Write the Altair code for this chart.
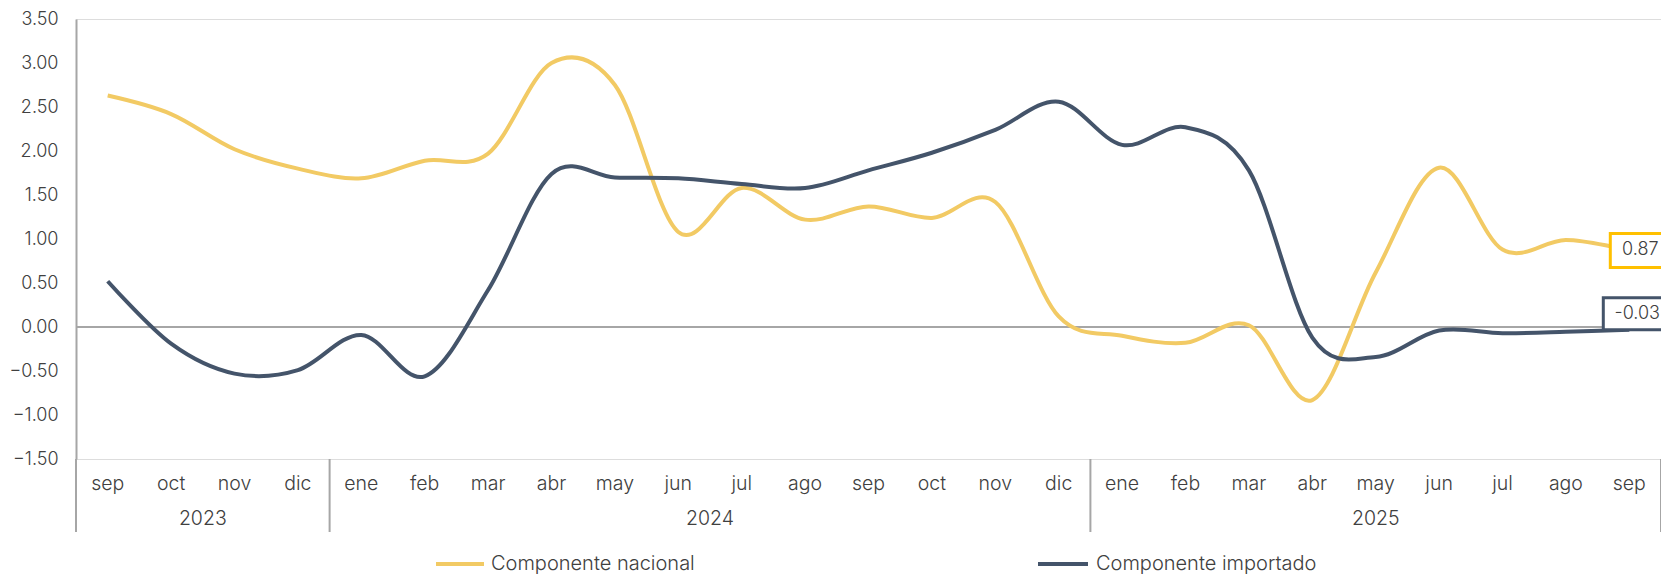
import altair as alt
import pandas as pd

# ---- data ----
months = ["sep", "oct", "nov", "dic",
          "ene", "feb", "mar", "abr", "may", "jun", "jul", "ago", "sep", "oct", "nov", "dic",
          "ene", "feb", "mar", "abr", "may", "jun", "jul", "ago", "sep"]
years = ["2023"] * 4 + ["2024"] * 12 + ["2025"] * 9
nacional = [2.63, 2.42, 2.02, 1.80,
            1.69, 1.89, 1.97, 3.00, 2.75, 1.08, 1.58, 1.22, 1.37, 1.24, 1.42, 0.12,
            -0.10, -0.18, 0.02, -0.83, 0.62, 1.81, 0.88, 0.99, 0.87]
importado = [0.52, -0.19, -0.53, -0.49,
             -0.09, -0.56, 0.42, 1.74, 1.70, 1.69, 1.625, 1.58, 1.78, 1.98, 2.24, 2.56,
             2.07, 2.27, 1.78, -0.12, -0.34, -0.04, -0.07, -0.055, -0.03]
series_names = ["Componente nacional", "Componente importado"]
y_ticks = [-1.5, -1.0, -0.5, 0.0, 0.5, 1.0, 1.5, 2.0, 2.5, 3.0, 3.5]

# ---- styling ----
FONT = "Inter"
FS = 18
FS_CAT = 19.5
FS_LEG = 20
TXT = "#404040"
GRID = "#A6A6A6"
YEL = "#F2CA64"
NAVY = "#44546A"
GOLD = "#FFC000"
W, H = 1585, 440

n = len(months)
df_nac = pd.DataFrame({"idx": range(n), "val": nacional})
df_imp = pd.DataFrame({"idx": range(n), "val": importado})
df_months = pd.DataFrame({"idx": range(n), "month": months})

# year groups
groups = []
start = 0
for i in range(1, n + 1):
    if i == n or years[i] != years[start]:
        groups.append((years[start], start, i - 1))
        start = i
df_years = pd.DataFrame({"idx": [(a + b) / 2 for _, a, b in groups],
                         "year": [y for y, _, _ in groups]})
div_pos = [-0.5] + [b + 0.5 for _, _, b in groups]
df_div = pd.DataFrame({"idx": div_pos})

x_enc = alt.X("idx:Q", scale=alt.Scale(domain=[-0.5, n - 0.5], nice=False, zero=False), axis=None)
y_enc = alt.Y("val:Q",
              scale=alt.Scale(domain=[y_ticks[0], y_ticks[-1]], nice=False, zero=False),
              axis=alt.Axis(values=y_ticks, format=".2f", title=None, grid=False,
                            ticks=False, domain=True, domainColor=GRID, domainWidth=2,
                            labelFont=FONT, labelFontSize=FS, labelColor=TXT,
                            labelPadding=18, labelOverlap=False, labelFontWeight=300))

zero = alt.Chart(pd.DataFrame({"val": [0.0]})).mark_rule(
    color=GRID, strokeWidth=2).encode(y=y_enc)

line_nac = alt.Chart(df_nac).mark_line(
    color=YEL, strokeWidth=4, interpolate="cardinal", tension=0).encode(x=x_enc, y=y_enc)
line_imp = alt.Chart(df_imp).mark_line(
    color=NAVY, strokeWidth=4, interpolate="cardinal", tension=0).encode(x=x_enc, y=y_enc)

# end labels
df_lab_nac = pd.DataFrame({"idx": [n - 1], "val": [nacional[-1]], "txt": [f"{nacional[-1]:.2f}"]})
df_lab_imp = pd.DataFrame({"idx": [n - 1], "val": [importado[-1]], "txt": [f"{importado[-1]:.2f}"]})

box_nac = alt.Chart(df_lab_nac).mark_rect(
    fill="white", stroke=GOLD, strokeWidth=3,
    xOffset=-19, x2Offset=45, yOffset=-17, y2Offset=17).encode(
    x=x_enc, x2="idx:Q", y=y_enc, y2="val:Q")
txt_nac = alt.Chart(df_lab_nac).mark_text(
    font=FONT, fontSize=FS, color=TXT, fontWeight=300, align="center", baseline="middle",
    dx=11).encode(x=x_enc, y=y_enc, text="txt:N")

box_imp = alt.Chart(df_lab_imp).mark_rect(
    fill="white", stroke=NAVY, strokeWidth=3,
    xOffset=-26, x2Offset=45, yOffset=-32, y2Offset=0).encode(
    x=x_enc, x2="idx:Q", y=y_enc, y2="val:Q")
txt_imp = alt.Chart(df_lab_imp).mark_text(
    font=FONT, fontSize=FS, color=TXT, fontWeight=300, align="center", baseline="middle",
    dx=8, dy=-16).encode(x=x_enc, y=y_enc, text="txt:N")

# category axis
month_txt = alt.Chart(df_months).mark_text(
    font=FONT, fontSize=FS_CAT, color=TXT, fontWeight=300, baseline="middle").encode(
    x=x_enc, y=alt.value(H + 25), text="month:N")
year_txt = alt.Chart(df_years).mark_text(
    font=FONT, fontSize=FS_CAT, color=TXT, fontWeight=300, baseline="middle").encode(
    x=x_enc, y=alt.value(H + 60), text="year:N")
dividers = alt.Chart(df_div).mark_rule(color=GRID, strokeWidth=2).encode(
    x=x_enc, y=alt.value(H), y2=alt.value(H + 73))

# legend
df_leg = pd.DataFrame({"name": series_names})
leg_y = H + 105
leg1_line = alt.Chart(df_leg.iloc[[0]]).mark_rule(color=YEL, strokeWidth=4).encode(
    x=alt.value(360), x2=alt.value(408), y=alt.value(leg_y))
leg1_txt = alt.Chart(df_leg.iloc[[0]]).mark_text(
    font=FONT, fontSize=FS_LEG, color=TXT, fontWeight=300, align="left", baseline="middle").encode(
    x=alt.value(415), y=alt.value(leg_y), text="name:N")
leg2_line = alt.Chart(df_leg.iloc[[1]]).mark_rule(color=NAVY, strokeWidth=4).encode(
    x=alt.value(962), x2=alt.value(1012), y=alt.value(leg_y))
leg2_txt = alt.Chart(df_leg.iloc[[1]]).mark_text(
    font=FONT, fontSize=FS_LEG, color=TXT, fontWeight=300, align="left", baseline="middle").encode(
    x=alt.value(1020), y=alt.value(leg_y), text="name:N")

chart = alt.layer(
    zero, line_nac, line_imp, box_nac, txt_nac, box_imp, txt_imp,
    month_txt, year_txt, dividers,
    leg1_line, leg1_txt, leg2_line, leg2_txt,
).properties(
    width=W, height=H,
    autosize=alt.AutoSizeParams(type="none"),
    padding={"left": 68, "top": 11, "right": 0, "bottom": 116},
).configure_view(stroke=None).configure(background="white")

chart.save("out.html", embed_options={"renderer": "svg", "actions": False})
